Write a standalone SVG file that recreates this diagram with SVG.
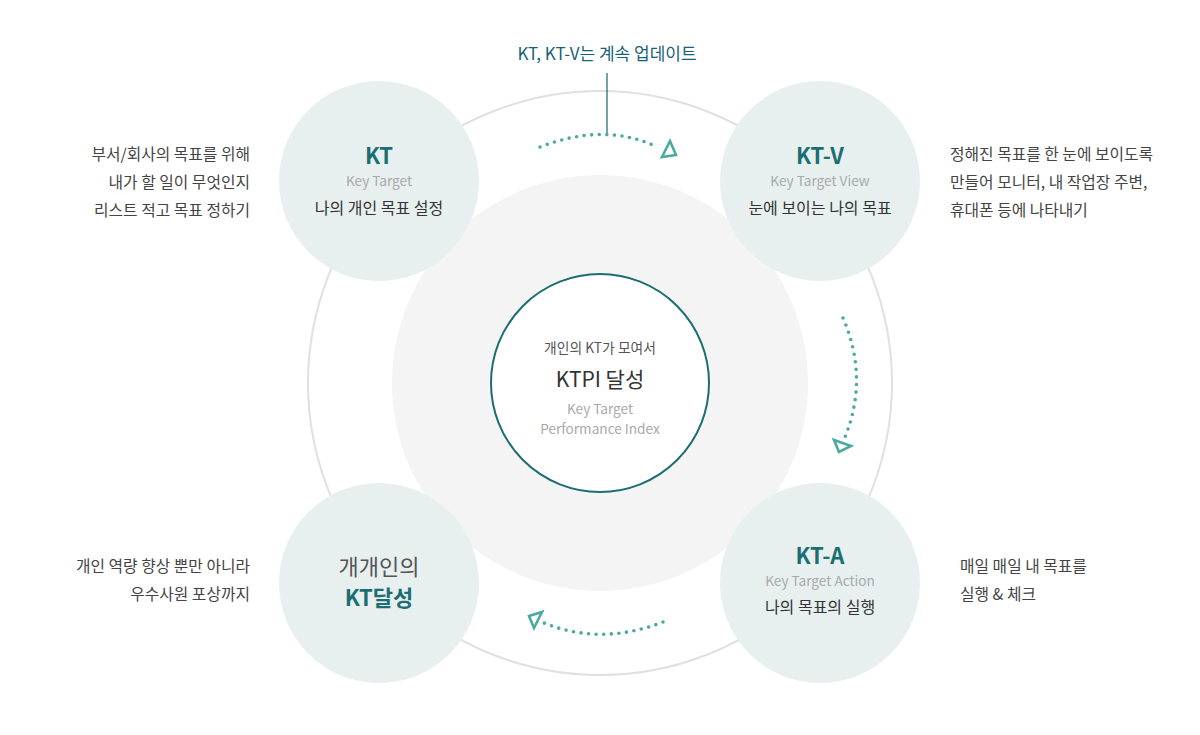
<svg xmlns="http://www.w3.org/2000/svg" width="1200" height="735" viewBox="0 0 1200 735">
<style>
text{font-family:"Noto Sans CJK KR","Noto Sans",sans-serif;text-anchor:middle}
.node{fill:#e7efef}
.title{font-size:22px;font-weight:bold;fill:#1b6e72}
.sub{font-size:13.6px;fill:#a9a9a9}
.desc{font-size:16px;fill:#333}
.side{font-size:15.8px;fill:#444}
.dots{fill:none;stroke:#4aa9a0;stroke-width:3.6;stroke-linecap:round;stroke-dasharray:0 7.6}
.tri{fill:none;stroke:#4aa9a0;stroke-width:2.6;stroke-linejoin:miter}
</style>
<rect width="1200" height="735" fill="#fff"/>
<g id="background">
<circle cx="600" cy="383" r="292" fill="none" stroke="#e0e0e0" stroke-width="2"/>
<circle cx="600" cy="383" r="208" fill="#f4f4f4"/>
</g>
<g id="connectors">
<path class="dots" d="M540,147 Q605,122 657,147"/>
<polygon class="tri" points="662,157 670,141 676,155"/>
<path class="dots" d="M843,318 Q869,378 845,437"/>
<polygon class="tri" points="834,440 839,452 851,446"/>
<path class="dots" d="M663,622 Q601,646 544,623"/>
<polygon class="tri" points="529,616 542,612 534,628"/>
<line x1="607" y1="73" x2="607" y2="133" stroke="#1a5f7a" stroke-width="1.2"/>
</g>
<g id="label-top">
<text x="607" y="60" style="font-size:17px;fill:#1a5f7a">KT, KT-V는 계속 업데이트</text>
</g>
<g id="node-center">
<circle cx="600" cy="383" r="109" fill="#fff" stroke="#1a6e73" stroke-width="2"/>
<text x="600" y="353" style="font-size:13.8px;fill:#555">개인의 KT가 모여서</text>
<text x="600" y="387" style="font-size:21px;fill:#333">KTPI 달성</text>
<text x="600" y="414" class="sub">Key Target</text>
<text x="600" y="434" class="sub">Performance Index</text>
</g>
<g id="node-kt">
<circle class="node" cx="379" cy="181" r="100"/>
<text x="379" y="164" class="title">KT</text>
<text x="379" y="186" class="sub">Key Target</text>
<text x="379" y="214" class="desc">나의 개인 목표 설정</text>
</g>
<g id="node-ktv">
<circle class="node" cx="820" cy="181" r="100"/>
<text x="820" y="164" class="title">KT-V</text>
<text x="820" y="186" class="sub">Key Target View</text>
<text x="820" y="214" class="desc">눈에 보이는 나의 목표</text>
</g>
<g id="node-kta">
<circle class="node" cx="820" cy="583" r="100"/>
<text x="820" y="564" class="title">KT-A</text>
<text x="820" y="586" class="sub">Key Target Action</text>
<text x="820" y="613" class="desc">나의 목표의 실행</text>
</g>
<g id="node-achieve">
<circle class="node" cx="379" cy="583" r="100"/>
<text x="379" y="575" style="font-size:22px;fill:#555">개개인의</text>
<text x="379" y="606" style="font-size:22px;font-weight:bold;fill:#1b6e72">KT달성</text>
</g>
<g id="side-texts">
<text x="250" y="160" class="side" style="text-anchor:end">부서/회사의 목표를 위해</text>
<text x="250" y="188" class="side" style="text-anchor:end">내가 할 일이 무엇인지</text>
<text x="250" y="216" class="side" style="text-anchor:end">리스트 적고 목표 정하기</text>
<text x="950" y="160" class="side" style="text-anchor:start">정해진 목표를 한 눈에 보이도록</text>
<text x="950" y="188" class="side" style="text-anchor:start">만들어 모니터, 내 작업장 주변,</text>
<text x="950" y="216" class="side" style="text-anchor:start">휴대폰 등에 나타내기</text>
<text x="250" y="572" class="side" style="text-anchor:end">개인 역량 향상 뿐만 아니라</text>
<text x="250" y="600" class="side" style="text-anchor:end">우수사원 포상까지</text>
<text x="960" y="572" class="side" style="text-anchor:start">매일 매일 내 목표를</text>
<text x="960" y="600" class="side" style="text-anchor:start">실행 &amp; 체크</text>
</g>
</svg>
